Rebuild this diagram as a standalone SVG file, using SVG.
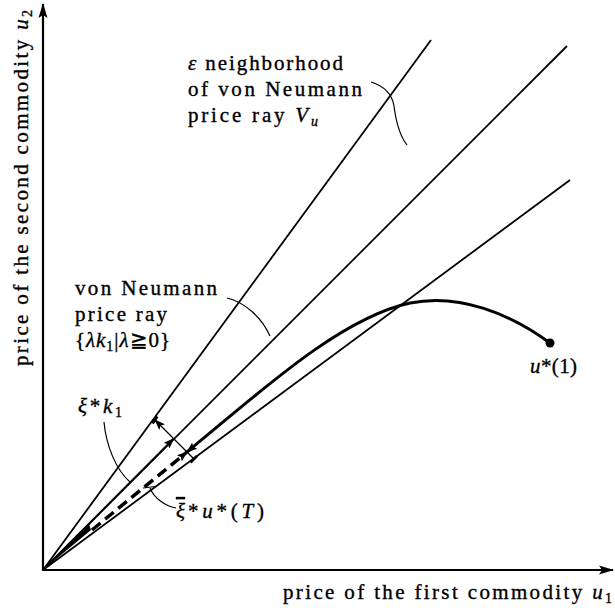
<svg xmlns="http://www.w3.org/2000/svg" width="615" height="608" viewBox="0 0 615 608">
<style>
.t{font-family:"Liberation Serif","DejaVu Serif",serif;font-size:21px;fill:#000;stroke:#000;stroke-width:0.35}
.i{font-style:italic}
.sub{font-size:14px}
.ax{stroke:#000;stroke-width:2.2;fill:none}
.ray{stroke:#000;stroke-width:1.8;fill:none}
.lead{stroke:#000;stroke-width:1.2;fill:none}
.bar{stroke:#000;stroke-width:2.6;fill:none}
</style>
<defs>
<marker id="axArrow" markerUnits="userSpaceOnUse" markerWidth="16" markerHeight="10" refX="14" refY="5" orient="auto">
<path d="M0,0.5 L15,5 L0,9.5 L3,5 z" fill="#000"/>
</marker>
<marker id="vArrow" markerUnits="userSpaceOnUse" markerWidth="12" markerHeight="8" refX="10" refY="4" orient="auto-start-reverse">
<path d="M0,0 L11,4 L0,8 L2,4 z" fill="#000"/>
</marker>
</defs>

<g id="axes">
<line class="ax" x1="43" y1="571" x2="43" y2="4" marker-end="url(#axArrow)"/>
<line class="ax" x1="42" y1="570" x2="613" y2="570" marker-end="url(#axArrow)"/>
</g>

<g id="connectors">
<line id="ray-upper" class="ray" x1="43" y1="570" x2="431" y2="40" stroke-width="2.1"/>
<line id="ray-middle" class="ray" x1="43" y1="570" x2="567" y2="46"/>
<line id="ray-lower" class="ray" x1="43" y1="570" x2="570" y2="180"/>
<line id="vec-k1" class="ray" x1="43" y1="570" x2="173.6" y2="438.6" marker-end="url(#vArrow)"/>
<polygon id="wedge" points="43,570 89,524 91,530" fill="#000"/>
<line id="vec-uT" x1="92" y1="530" x2="187" y2="452" stroke="#000" stroke-width="3.5" stroke-dasharray="11 6" marker-end="url(#vArrow)"/>
<path id="path-u" d="M187,452 C260,392 340,318 410,303 C460,293 510,314 550,343" fill="none" stroke="#000" stroke-width="3" marker-start="url(#vArrow)"/>
<line id="measure" class="lead" x1="155" y1="420" x2="194" y2="459" stroke-width="1.5" marker-start="url(#vArrow)"/>
<line class="bar" x1="152.6" y1="423.5" x2="157.4" y2="416.5"/>
<line class="bar" x1="190.5" y1="462.5" x2="197" y2="456"/>
<path id="lead-eps" class="lead" d="M371,82 C384,86 392,94 394,106 C396,122 400,136 407,145"/>
<path id="lead-vn" class="lead" d="M227,298 C245,302 262,318 270,336"/>
<path id="lead-k1" class="lead" d="M104,422 C106,445 116,470 130,482"/>
<path id="lead-uT" class="lead" d="M176,508 C165,506 154,498 150,488"/>
<line class="lead" x1="143" y1="488" x2="155" y2="486.5" stroke-width="1.8"/>
</g>

<g id="node-u1">
<circle cx="550" cy="343" r="4.5" fill="#000"/>
<text class="t" x="530" y="373" textLength="47" lengthAdjust="spacing"><tspan class="i">u</tspan>*(1)</text>
</g>

<g id="label-eps">
<text class="t" x="188" y="70" textLength="155" lengthAdjust="spacing"><tspan class="i">ε</tspan> neighborhood</text>
<text class="t" x="188" y="96" textLength="174" lengthAdjust="spacing">of von Neumann</text>
<text class="t" x="188" y="122" textLength="130" lengthAdjust="spacing">price ray <tspan class="i">V</tspan><tspan class="i sub" dy="4">u</tspan></text>
</g>

<g id="label-vn">
<text class="t" x="75" y="295" textLength="142" lengthAdjust="spacing">von Neumann</text>
<text class="t" x="75" y="321" textLength="92" lengthAdjust="spacing">price ray</text>
<text class="t" x="75" y="347" textLength="95" lengthAdjust="spacing">{<tspan class="i">λk</tspan><tspan class="sub" dy="4">1</tspan><tspan dy="-4">|</tspan><tspan class="i">λ</tspan>≧0}</text>
</g>

<g id="label-k1">
<text class="t" x="78" y="413" textLength="44" lengthAdjust="spacing"><tspan class="i">ξ</tspan>*<tspan class="i">k</tspan><tspan class="sub" dy="4">1</tspan></text>
</g>

<g id="label-uT">
<text class="t i" x="176" y="518" style="text-decoration:overline">ξ</text>
<text class="t" x="188" y="518" textLength="76" lengthAdjust="spacing">*<tspan class="i">u</tspan>*(<tspan class="i">T</tspan>)</text>
</g>

<g id="axis-labels">
<text class="t" x="283" y="599" textLength="329" lengthAdjust="spacing">price of the first commodity <tspan class="i">u</tspan><tspan class="sub" dy="4">1</tspan></text>
<text class="t" transform="translate(28,366) rotate(-90)" textLength="356" lengthAdjust="spacing">price of the second commodity <tspan class="i">u</tspan><tspan class="sub" dy="4">2</tspan></text>
</g>
</svg>
